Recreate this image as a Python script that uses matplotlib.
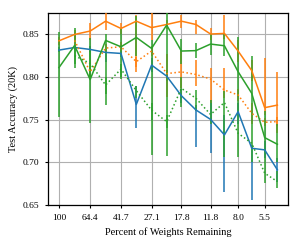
import numpy as np
import matplotlib
matplotlib.use("Agg")
import matplotlib.pyplot as plt

plt.rcParams["font.family"] = ["Liberation Serif", "DejaVu Serif"]
plt.rcParams["font.size"] = 7.5

# percent of weights remaining at each pruning round
pct = [100, 80.2, 64.4, 51.8, 41.7, 33.6, 27.1, 21.9, 17.8, 14.5, 11.8, 9.7, 8.0, 6.6, 5.5, 4.6]
tick_pct = [100, 64.4, 41.7, 27.1, 17.8, 11.8, 8.0, 5.5]
tick_labels = ["100", "64.4", "41.7", "27.1", "17.8", "11.8", "8.0", "5.5"]

# blue, solid
blue = [0.8316, 0.8347, 0.8324, 0.8289, 0.8277, 0.7678, 0.814, 0.801, 0.778, 0.7613, 0.7502, 0.732, 0.7593, 0.7163, 0.7144, 0.691]
blue_lo = [0.829, 0.832, 0.829, 0.818, 0.824, 0.7405, 0.806, 0.795, 0.77, 0.718, 0.7104, 0.6648, 0.745, 0.6554, 0.705, 0.677]
blue_hi = [0.835, 0.838, 0.836, 0.833, 0.832, 0.79, 0.822, 0.808, 0.786, 0.767, 0.773, 0.7555, 0.77, 0.72, 0.725, 0.705]

# orange, solid
orange = [0.8425, 0.850, 0.854, 0.8656, 0.857, 0.8656, 0.858, 0.8617, 0.8656, 0.8617, 0.8505, 0.8512, 0.8305, 0.8075, 0.764, 0.767]
orange_lo = [0.838, 0.845, 0.844, 0.855, 0.851, 0.806, 0.843, 0.856, 0.858, 0.851, 0.843, 0.845, 0.818, 0.795, 0.755, 0.734]
orange_hi = [0.847, 0.855, 0.864, 0.876, 0.864, 0.873, 0.875, 0.867, 0.873, 0.867, 0.858, 0.873, 0.843, 0.820, 0.822, 0.806]

# orange, dotted (starts at second round)
orange_d = [0.843, 0.806, 0.834, 0.8355, 0.818, 0.8305, 0.804, 0.806, 0.803, 0.7976, 0.7847, 0.7789, 0.7574, 0.7468, 0.7476]
orange_d_lo = [0.838, 0.800, 0.829, 0.830, 0.812, 0.825, 0.777, 0.787, 0.790, 0.770, 0.775, 0.772, 0.745, 0.742, 0.742]
orange_d_hi = [0.848, 0.812, 0.839, 0.841, 0.824, 0.836, 0.8265, 0.831, 0.820, 0.810, 0.810, 0.786, 0.770, 0.752, 0.753]

# green, solid
green = [0.811, 0.837, 0.797, 0.843, 0.8355, 0.8465, 0.8336, 0.861, 0.8305, 0.831, 0.8387, 0.8367, 0.8062, 0.7808, 0.7288, 0.721]
green_lo = [0.7535, 0.811, 0.7456, 0.767, 0.798, 0.825, 0.7085, 0.707, 0.815, 0.822, 0.826, 0.825, 0.76, 0.74, 0.70, 0.70]
green_hi = [0.853, 0.857, 0.846, 0.851, 0.857, 0.872, 0.843, 0.875, 0.845, 0.84, 0.851, 0.85, 0.847, 0.825, 0.76, 0.745]

# green, dotted (starts at second round)
green_d = [0.825, 0.816, 0.7906, 0.8093, 0.784, 0.761, 0.7476, 0.7867, 0.775, 0.756, 0.770, 0.7339, 0.7222, 0.687, 0.6772]
green_d_lo = [0.815, 0.80, 0.78, 0.80, 0.775, 0.75, 0.74, 0.765, 0.76, 0.745, 0.706, 0.706, 0.70, 0.675, 0.67]
green_d_hi = [0.835, 0.83, 0.80, 0.815, 0.79, 0.77, 0.755, 0.80, 0.785, 0.773, 0.783, 0.76, 0.74, 0.70, 0.69]


def draw(ax, x, y, lo, hi, color, ls):
    y = np.array(y)
    err = [y - np.array(lo), np.array(hi) - y]
    ax.errorbar(x, y, yerr=err, color=color, ls=ls, lw=1.1,
                elinewidth=1.1, capsize=0, zorder=3)


fig = plt.figure(figsize=(3.02, 2.45), dpi=100)
ax = fig.add_axes([0.159, 0.1645, 0.7956, 0.7835])

x = np.array(pct)
draw(ax, x, blue, blue_lo, blue_hi, "tab:blue", "-")
draw(ax, x[1:], orange_d, orange_d_lo, orange_d_hi, "tab:orange", ":")
draw(ax, x, orange, orange_lo, orange_hi, "tab:orange", "-")
draw(ax, x[1:], green_d, green_d_lo, green_d_hi, "tab:green", ":")
draw(ax, x, green, green_lo, green_hi, "tab:green", "-")

ax.set_xscale("log")
ax.invert_xaxis()
ax.set_xticks(tick_pct)
ax.set_xticklabels(tick_labels)
ax.xaxis.set_minor_locator(matplotlib.ticker.NullLocator())
ax.set_ylim(0.65, 0.8755)
ax.set_yticks([0.65, 0.70, 0.75, 0.80, 0.85])
ax.set_yticklabels(["0.65", "0.70", "0.75", "0.80", "0.85"])
ax.grid(True, color="#b0b0b0", lw=0.8)
ax.set_axisbelow(True)
ax.tick_params(length=2.5, width=0.8, pad=4, labelsize=6.8)
for s in ax.spines.values():
    s.set_linewidth(0.9)

ax.set_xlabel("Percent of Weights Remaining", labelpad=4)
ax.set_ylabel("Test Accuracy (20K)", labelpad=3)

fig.savefig("out.png", dpi=100)
